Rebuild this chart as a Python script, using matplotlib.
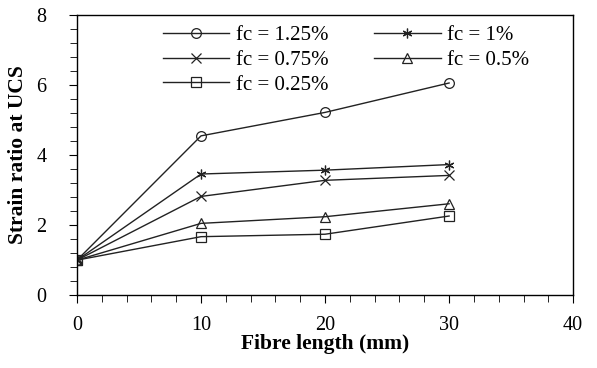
import numpy as np
import matplotlib.pyplot as plt
from matplotlib.ticker import MultipleLocator

plt.rcParams['font.family'] = ['Liberation Serif', 'DejaVu Serif']

# data
fibre_length = [0, 10, 20, 30]
fc_125 = [1.0, 4.55, 5.22, 6.06]
fc_100 = [1.0, 3.46, 3.57, 3.73]
fc_075 = [1.0, 2.82, 3.28, 3.42]
fc_050 = [1.0, 2.05, 2.24, 2.61]
fc_025 = [1.0, 1.67, 1.74, 2.26]

series = [
    (fc_125, 'o', 'fc = 1.25%'),
    (fc_100, (6, 2, 0), 'fc = 1%'),
    (fc_075, 'x', 'fc = 0.75%'),
    (fc_050, '^', 'fc = 0.5%'),
    (fc_025, 's', 'fc = 0.25%'),
]

fig = plt.figure(figsize=(5.97, 3.68), dpi=100)
ax = fig.add_axes([0.129, 0.198, 0.831, 0.761])

lines = []
for vals, mk, lab in series:
    ln, = ax.plot(fibre_length, vals, color='#222222', lw=1.0, marker=mk,
                  markersize=7, markerfacecolor='none', markeredgecolor='#222222',
                  markeredgewidth=0.9, label=lab)
    lines.append(ln)

ax.set_xlim(0, 40)
ax.set_ylim(0, 8)
ax.xaxis.set_major_locator(MultipleLocator(10))
ax.xaxis.set_minor_locator(MultipleLocator(2))
ax.yaxis.set_major_locator(MultipleLocator(2))
ax.yaxis.set_minor_locator(MultipleLocator(0.4))
ax.tick_params(which='major', direction='out', length=6, labelsize=14.5)
ax.tick_params(which='minor', direction='out', length=5)
ax.tick_params(axis='x', which='major', pad=9)
ax.tick_params(axis='y', which='major', pad=16)
for s in ax.spines.values():
    s.set_linewidth(1.0)

ax.set_xlabel('Fibre length (mm)', fontsize=15.5, fontweight='bold', labelpad=-1)
ax.set_ylabel('Strain ratio at UCS', fontsize=15.5, fontweight='bold', labelpad=6)

# row-wise order like the original legend
order = [0, 2, 4, 1, 3]
ax.legend([lines[i] for i in order], [series[i][2] for i in order],
          ncol=2, frameon=False, fontsize=15, loc='upper left',
          bbox_to_anchor=(0.135, 1.03), handlelength=3.2, columnspacing=2.2,
          labelspacing=0.25, handletextpad=0.3)

fig.savefig('out.png', dpi=100)
